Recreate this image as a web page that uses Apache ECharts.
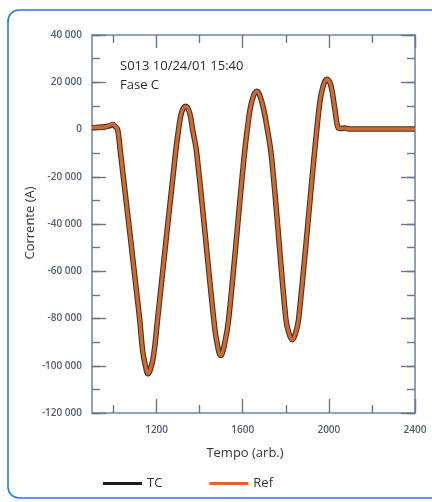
<!DOCTYPE html>
<html>
<head>
<meta charset="utf-8">
<script src="https://cdn.jsdelivr.net/npm/echarts@6/dist/echarts.min.js"></script>
<style>
html,body{margin:0;padding:0;background:#fff;}
#chart{width:432px;height:502px;}
</style>
</head>
<body>
<div id="chart"></div>
<script>
// ---- data ----
const timeValues = [900, 960, 981, 995, 1009, 1019, 1030, 1121, 1135, 1149, 1160, 1172, 1186, 1205, 1288, 1302, 1316, 1335, 1353, 1367, 1386, 1465, 1479, 1498, 1516, 1535, 1605, 1623, 1642, 1665, 1688, 1712, 1735, 1800, 1814, 1830, 1846, 1860, 1930, 1944, 1958, 1972, 1991, 2009, 2028, 2042, 2056, 2074, 2098, 2400];
const refValues = [850, 1060, 1700, 2300, 1300, 0, -8000, -80000, -93600, -100400, -103400, -101300, -95700, -80000, -9800, 0, 7200, 9800, 7200, 0, -9800, -80000, -89400, -95700, -90600, -80000, -12800, 1300, 11900, 16200, 11900, 1300, -12800, -80000, -86000, -89000, -86000, -80000, -12800, 0, 11500, 17900, 21300, 18700, 8500, 850, 400, 600, 200, 200];
const tcValues = [700, 1200, 1500, 2100, 1200, 0, -8000, -80000, -93600, -100400, -103400, -101300, -95700, -80000, -9800, 0, 7200, 9800, 7200, 0, -9800, -80000, -89400, -95700, -90600, -80000, -12800, 1300, 11900, 16200, 11900, 1300, -12800, -80000, -86000, -89000, -86000, -80000, -12800, 0, 11500, 17900, 21300, 18700, 8500, 850, 400, 600, 200, 200];
const seriesNames = ['TC', 'Ref'];
const xMajorTicks = [1200, 1600, 2000, 2400];
const xMinorTicks = [1000, 1400, 1800, 2200];
const annotationLines = ['S013 10/24/01 15:40', 'Fase C'];
const xTitle = 'Tempo (arb.)';
const yTitle = 'Corrente (A)';

const refData = timeValues.map((t, i) => [t, refValues[i]]);
const tcData = timeValues.map((t, i) => [t, tcValues[i]]);

const axisColor = '#8d9db2';
const tickColor = '#66778c';
const labelStyle = {color: '#4f5e70', fontSize: 10, fontWeight: 600, fontFamily: 'Open Sans'};

function fmt(v) {
  if (v === 0) return '0';
  const s = Math.abs(v).toString().replace(/\B(?=(\d{3})+(?!\d))/g, ' ');
  return (v < 0 ? '-' : '') + s;
}

const xBase = {
  type: 'value', min: 900, max: 2400,
  splitLine: {show: false},
  axisLine: {show: true, onZero: false, lineStyle: {color: axisColor, width: 1.6}}
};
const yBase = {
  type: 'value', min: -120000, max: 40000,
  splitLine: {show: false},
  axisLine: {show: true, onZero: false, lineStyle: {color: axisColor, width: 1.6}}
};

const borderColor = '#1d7ed6';
const borderStyle = {fill: 'none', stroke: borderColor, lineWidth: 1.6};

const chart = echarts.init(document.getElementById('chart'), null, {renderer: 'canvas'});
chart.setOption({
  backgroundColor: '#fff',
  animation: false,
  grid: {left: 92, right: 17, top: 35, bottom: 89, containLabel: false},
  xAxis: [
    Object.assign({}, xBase, {position: 'bottom',
      axisTick: {show: true, inside: true, length: 14, customValues: xMajorTicks, lineStyle: {color: tickColor, width: 1.4}},
      axisLabel: {show: true, customValues: xMajorTicks, margin: 12, formatter: v => String(v), ...labelStyle}}),
    Object.assign({}, xBase, {position: 'bottom',
      axisTick: {show: true, inside: true, length: 8, customValues: xMinorTicks, lineStyle: {color: tickColor, width: 1.4}},
      axisLabel: {show: false}}),
    Object.assign({}, xBase, {position: 'top',
      axisTick: {show: true, inside: true, length: 13, customValues: xMajorTicks, lineStyle: {color: tickColor, width: 1.4}},
      axisLabel: {show: false}}),
    Object.assign({}, xBase, {position: 'top',
      axisTick: {show: true, inside: true, length: 8, customValues: xMinorTicks, lineStyle: {color: tickColor, width: 1.4}},
      axisLabel: {show: false}})
  ],
  yAxis: [
    Object.assign({}, yBase, {position: 'left', interval: 20000,
      axisTick: {show: true, inside: true, length: 14, lineStyle: {color: tickColor, width: 1.4}},
      axisLabel: {show: true, margin: 10, formatter: fmt, ...labelStyle}}),
    Object.assign({}, yBase, {position: 'left', interval: 10000,
      axisTick: {show: true, inside: true, length: 8, lineStyle: {color: tickColor, width: 1.4}},
      axisLabel: {show: false}}),
    Object.assign({}, yBase, {position: 'right', interval: 20000,
      axisTick: {show: true, inside: true, length: 14, lineStyle: {color: tickColor, width: 1.4}},
      axisLabel: {show: false}}),
    Object.assign({}, yBase, {position: 'right', interval: 10000,
      axisTick: {show: true, inside: true, length: 8, lineStyle: {color: tickColor, width: 1.4}},
      axisLabel: {show: false}})
  ],
  legend: {
    left: 98, top: 472, icon: 'rect', itemWidth: 39, itemHeight: 3, itemGap: 47,
    textStyle: {color: '#333', fontSize: 13, fontFamily: 'Open Sans'},
    data: [
      {name: seriesNames[0], itemStyle: {color: '#1e1e1e'}},
      {name: seriesNames[1], itemStyle: {color: '#e0652b'}}
    ]
  },
  series: [
    {name: seriesNames[0], type: 'line', data: tcData, xAxisIndex: 0, yAxisIndex: 0,
      showSymbol: false, smooth: 0.4,
      lineStyle: {color: '#4a2e1e', width: 5.5}, itemStyle: {color: '#1e1e1e'}, z: 2},
    {name: seriesNames[1], type: 'line', data: refData, xAxisIndex: 0, yAxisIndex: 0,
      showSymbol: false, smooth: 0.4,
      lineStyle: {color: '#cd6b35', width: 3.4}, itemStyle: {color: '#e0652b'}, z: 3}
  ],
  graphic: [
    {type: 'line', silent: true, shape: {x1: 19, y1: 10, x2: 440, y2: 10}, style: borderStyle},
    {type: 'line', silent: true, shape: {x1: 8, y1: 21, x2: 8, y2: 487}, style: borderStyle},
    {type: 'line', silent: true, shape: {x1: 19, y1: 498, x2: 440, y2: 498}, style: borderStyle},
    {type: 'arc', silent: true, shape: {cx: 19, cy: 21, r: 11, startAngle: Math.PI, endAngle: Math.PI * 1.5}, style: borderStyle},
    {type: 'arc', silent: true, shape: {cx: 19, cy: 487, r: 11, startAngle: Math.PI * 0.5, endAngle: Math.PI}, style: borderStyle},
    {type: 'text', x: 120, y: 57, style: {text: annotationLines.join('\n'), fill: '#2a2a2a', fontSize: 13, lineHeight: 19, fontFamily: 'Open Sans'}},
    {type: 'text', x: 245, y: 453, style: {text: xTitle, fill: '#333', fontSize: 13, fontFamily: 'Open Sans', align: 'center', verticalAlign: 'middle'}},
    {type: 'text', x: 30, y: 223, rotation: Math.PI / 2, style: {text: yTitle, fill: '#333', fontSize: 13, fontFamily: 'Open Sans', align: 'center', verticalAlign: 'middle'}}
  ]
});
</script>
</body>
</html>
